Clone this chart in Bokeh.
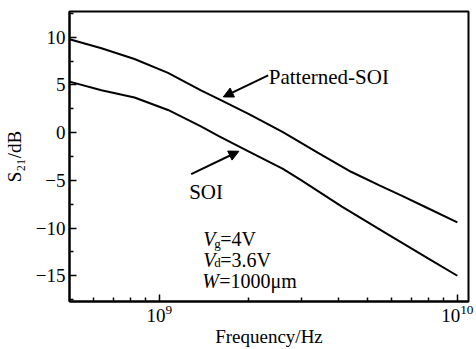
from bokeh.plotting import figure
from bokeh.models import FixedTicker, Arrow, NormalHead, Range1d
from bokeh.embed import file_html
from bokeh.resources import INLINE
from bokeh.core.properties import value

# ---- data ----
freq_pat = [5e8, 6.4e8, 8.26e8, 1.07e9, 1.38e9, 1.61e9, 2.0e9, 2.6e9, 3.4e9, 4.4e9, 5.5e9, 6.5e9, 8e9, 1e10]
s21_pat = [9.8, 8.85, 7.72, 6.27, 4.44, 3.41, 1.95, 0.05, -2.1, -4.1, -5.55, -6.6, -7.95, -9.4]

freq_soi = [5e8, 6.4e8, 8.26e8, 1.07e9, 1.38e9, 1.59e9, 2.0e9, 2.6e9, 3e9, 4.1e9, 5.7e9, 8e9, 1e10]
s21_soi = [5.35, 4.44, 3.69, 2.38, 0.65, -0.38, -2.0, -3.8, -5.0, -7.75, -10.45, -13.2, -15.0]

x_major = [1e9, 1e10]
x_minor = [6e8, 7e8, 8e8, 9e8, 2e9, 3e9, 4e9, 5e9, 6e9, 7e9, 8e9, 9e9]
y_major = [-15, -10, -5, 0, 5, 10]
y_minor = [-17.5, -12.5, -7.5, -2.5, 2.5, 7.5, 12.5]

x_lim = (5e8, 1.09e10)
y_lim = (-17.7, 12.7)

# annotation anchors (data coords)
pat_label = ("Patterned-SOI", 2.33e9, 5.8)
pat_arrow = (2.32e9, 6.0, 1.64e9, 3.75)
soi_label = ("SOI", 1.26e9, -6.2)
soi_arrow = (1.28e9, -4.35, 1.85e9, -1.95)
cond_x = 1.393e9
cond_y = [-11.16, -13.33, -15.6]

FONT = "Liberation Serif"

p = figure(width=476, height=349, x_axis_type="log",
           x_range=Range1d(*x_lim), y_range=Range1d(*y_lim),
           output_backend="svg", toolbar_location=None,
           min_border_left=69, min_border_right=8, min_border_top=11, min_border_bottom=44)

p.grid.visible = False
p.outline_line_color = "black"
p.outline_line_width = 2
p.outline_line_alpha = 1

p.line(freq_pat, s21_pat, line_color="black", line_width=2)
p.line(freq_soi, s21_soi, line_color="black", line_width=2)

p.xaxis.ticker = FixedTicker(ticks=x_major, minor_ticks=x_minor)
p.yaxis.ticker = FixedTicker(ticks=y_major, minor_ticks=y_minor)

for ax in (p.xaxis[0], p.yaxis[0]):
    ax.axis_line_color = "black"
    ax.axis_line_width = 2
    ax.major_tick_in = 7
    ax.major_tick_out = 0
    ax.minor_tick_in = 4
    ax.minor_tick_out = 0
    ax.major_tick_line_color = "black"
    ax.minor_tick_line_color = "black"
    ax.major_tick_line_width = 1.5
    ax.minor_tick_line_width = 1.5
    ax.major_label_text_font = FONT
    ax.major_label_text_font_size = "19px"
    ax.major_label_text_color = "black"
    ax.axis_label_text_font = FONT
    ax.axis_label_text_font_size = "19px"
    ax.axis_label_text_font_style = "normal"
    ax.axis_label_text_color = "black"

p.xaxis.axis_label = "Frequency/Hz"
p.xaxis.major_label_standoff = 3
p.xaxis.axis_label_standoff = 1
p.yaxis.axis_label = "S₂₁/dB"
p.yaxis.major_label_standoff = 4
p.yaxis.axis_label_standoff = 8

# labels and arrows
p.text(x=[pat_label[1]], y=[pat_label[2]], text=[pat_label[0]], text_font=value(FONT),
       text_font_size="21px", text_baseline="alphabetic", text_align="left", text_color="black")
p.text(x=[soi_label[1]], y=[soi_label[2]], text=[soi_label[0]], text_font=value(FONT),
       text_font_size="21px", text_baseline="alphabetic", text_align="left", text_color="black")

for (x0, y0, x1, y1) in (pat_arrow, soi_arrow):
    p.add_layout(Arrow(x_start=x0, y_start=y0, x_end=x1, y_end=y1, line_width=2, line_color="black",
                       end=NormalHead(size=10, fill_color="black", line_color="black")))

def frag(txt, yy, dx, dy, size, style="normal"):
    p.text(x=[cond_x], y=[yy], text=[txt], x_offset=dx, y_offset=dy, text_font=value(FONT),
           text_font_size=size, text_font_style=style, text_baseline="alphabetic",
           text_align="left", text_color="black")

frag("V", cond_y[0], 1, 0, "20px", "italic")
frag("g", cond_y[0], 12, 4, "13px")
frag("=4V", cond_y[0], 18, 0, "20px")
frag("V", cond_y[1], 1, 0, "20px", "italic")
frag("d", cond_y[1], 12, 3, "13px")
frag("=3.6V", cond_y[1], 18, 0, "20px")
frag("W", cond_y[2], 0, 0, "20px", "italic")
frag("=1000μm", cond_y[2], 17, 0, "20px")

open("out.html", "w").write(file_html(p, INLINE))
